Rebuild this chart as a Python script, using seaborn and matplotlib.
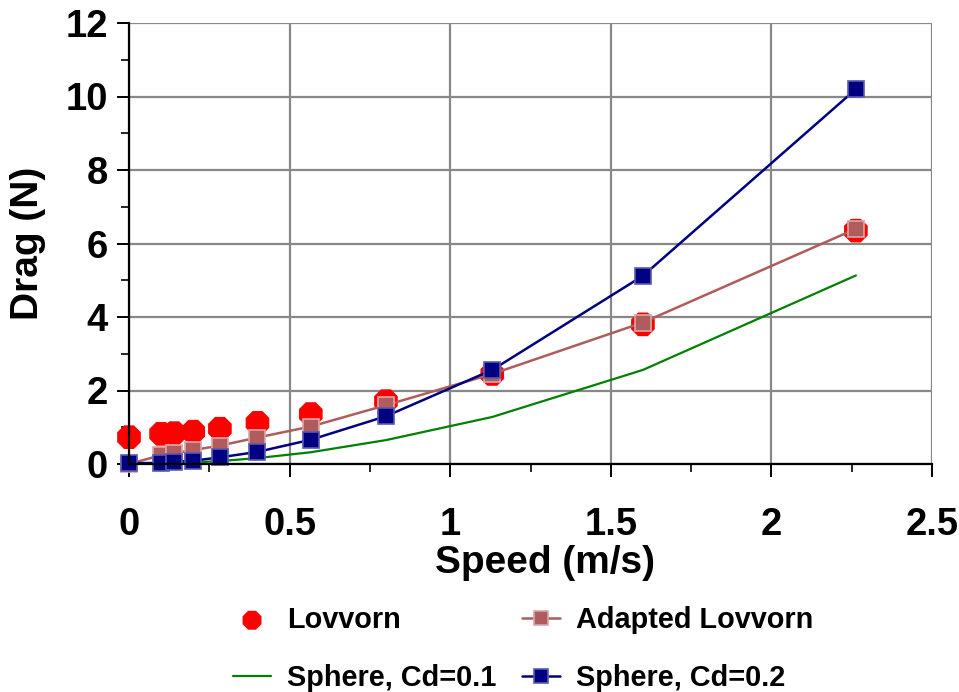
import matplotlib
matplotlib.use("Agg")
import matplotlib.pyplot as plt
import seaborn as sns
import numpy as np
import pandas as pd
from matplotlib.ticker import MultipleLocator

speed = [0.0, 0.1, 0.141, 0.2, 0.283, 0.4, 0.566, 0.8, 1.131, 1.6, 2.263]
lovvorn = [0.73, 0.82, 0.84, 0.88, 0.96, 1.12, 1.36, 1.71, 2.45, 3.8, 6.35]
adapted = [0.0, 0.24, 0.29, 0.38, 0.5, 0.72, 1.02, 1.6, 2.45, 3.85, 6.4]
sphere01 = [0.0, 0.01, 0.02, 0.04, 0.08, 0.16, 0.32, 0.65, 1.28, 2.56, 5.13]
sphere02 = [0.02, 0.03, 0.06, 0.09, 0.18, 0.33, 0.66, 1.3, 2.56, 5.12, 10.2]

sns.set_style("white")
plt.rcParams['font.family'] = ['Liberation Sans', 'DejaVu Sans']
plt.rcParams['font.weight'] = 'bold'
plt.rcParams['text.color'] = 'black'
plt.rcParams['axes.labelcolor'] = 'black'
plt.rcParams['xtick.color'] = 'black'
plt.rcParams['ytick.color'] = 'black'

fig = plt.figure(figsize=(9.59, 6.92), dpi=100)
ax = fig.add_axes([129/959, 1-464/692, (932-129)/959, (464-23)/692])

df = pd.DataFrame({"speed": speed, "lovvorn": lovvorn, "adapted": adapted,
                   "s01": sphere01, "s02": sphere02})

sns.scatterplot(data=df, x="speed", y="lovvorn", ax=ax, color="#FF0000", s=340,
                marker="8", edgecolor="none", label="Lovvorn", zorder=3, clip_on=False)
sns.lineplot(data=df, x="speed", y="s01", ax=ax, color="#008000", lw=1.6,
             label="Sphere, Cd=0.1", zorder=4)
sns.lineplot(data=df, x="speed", y="adapted", ax=ax, color="#B05C5C", lw=1.8,
             marker="s", markersize=12, markeredgecolor="#D8A8A8", markeredgewidth=1.2,
             label="Adapted Lovvorn", zorder=5, clip_on=False)
sns.lineplot(data=df, x="speed", y="s02", ax=ax, color="#000080", lw=1.8,
             marker="s", markersize=12, markeredgecolor="#5A5AB0", markeredgewidth=1.2,
             label="Sphere, Cd=0.2", zorder=6, clip_on=False)

ax.set_xlim(0, 2.5)
ax.set_ylim(0, 12)
ax.xaxis.set_minor_locator(MultipleLocator(0.25))
ax.yaxis.set_major_locator(MultipleLocator(2))
ax.yaxis.set_minor_locator(MultipleLocator(1))
ax.set_xticks([0, 0.5, 1, 1.5, 2, 2.5])
ax.set_xticklabels(["0", "0.5", "1", "1.5", "2", "2.5"])
ax.grid(True, which="major", color="#888888", lw=1.6)
ax.set_axisbelow(True)
for s in ["top", "right"]:
    ax.spines[s].set_visible(False)
for s in ["left", "bottom"]:
    ax.spines[s].set_color("black")
    ax.spines[s].set_linewidth(1.6)
    ax.spines[s].set_zorder(10)
ax.tick_params(axis="both", which="major", direction="out", length=9, width=1.4,
               color="black", labelsize=27.5, bottom=True, left=True)
ax.tick_params(axis="x", which="major", pad=22)
ax.tick_params(axis="y", which="major", pad=6)
ax.tick_params(axis="both", which="minor", direction="out", length=6, width=1.2,
               color="black", bottom=True, left=True)
for lab in ax.get_xticklabels() + ax.get_yticklabels():
    lab.set_fontweight("bold")
ax.set_xlabel("Speed (m/s)", fontsize=28, fontweight="bold", va="center")
ax.xaxis.set_label_coords((545-129)/803, (464-563)/441)
ax.set_ylabel("Drag (N)", fontsize=28, fontweight="bold", va="center")
ax.yaxis.set_label_coords((28-129)/803, (464-243)/441)

handles, labels = ax.get_legend_handles_labels()
order = ["Lovvorn", "Sphere, Cd=0.1", "Adapted Lovvorn", "Sphere, Cd=0.2"]
hmap = dict(zip(labels, handles))
ax.legend([hmap[k] for k in order], order, ncol=2, loc="center",
          bbox_to_anchor=(523/959, 1-649/692), bbox_transform=fig.transFigure,
          frameon=False, prop={"size": 20.8, "weight": "bold"},
          columnspacing=0.9, handlelength=1.3, handletextpad=0.55,
          labelspacing=1.05, markerscale=0.8)

fig.savefig("out.png", dpi=100)
